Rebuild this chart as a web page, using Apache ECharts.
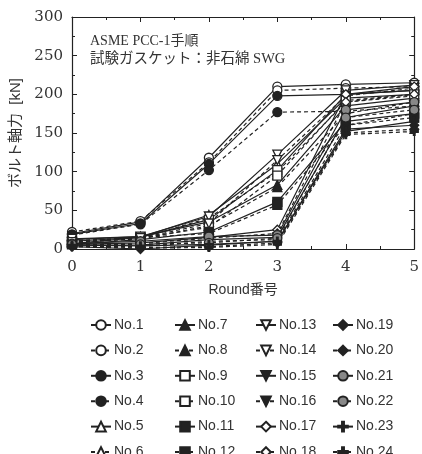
<!DOCTYPE html>
<html><head><meta charset="utf-8">
<script src="https://cdn.jsdelivr.net/npm/echarts@6/dist/echarts.min.js"></script>
<style>html,body{margin:0;padding:0;background:#fff}#c{width:422px;height:454px}</style>
</head><body><div id="c"></div>
<script>
const rounds = [0, 1, 2, 3, 4, 5];
const names = ['No.1','No.2','No.3','No.4','No.5','No.6','No.7','No.8','No.9','No.10','No.11','No.12',
  'No.13','No.14','No.15','No.16','No.17','No.18','No.19','No.20','No.21','No.22','No.23','No.24'];
const no1  = [20, 35, 118, 210, 213, 215];
const no2  = [22, 36, 112, 205, 208, 210];
const no3  = [19, 33, 110, 198, 200, 205];
const no4  = [18, 32, 102, 177, 178, 185];
const no5  = [10, 15, 44, 110, 195, 200];
const no6  = [8, 14, 40, 100, 190, 198];
const no7  = [12, 16, 35, 83, 185, 195];
const no8  = [9, 13, 30, 80, 175, 190];
const no9  = [7, 15, 38, 102, 200, 205];
const no10 = [11, 14, 28, 95, 192, 200];
const no11 = [6, 12, 22, 61, 165, 175];
const no12 = [10, 15, 20, 57, 160, 170];
const no13 = [13, 16, 42, 122, 205, 212];
const no14 = [9, 14, 33, 115, 198, 208];
const no15 = [5, 5, 12, 15, 170, 185];
const no16 = [4, 3, 10, 12, 160, 175];
const no17 = [6, 8, 15, 25, 200, 210];
const no18 = [5, 7, 14, 20, 190, 200];
const no19 = [3, 0, 5, 10, 155, 160];
const no20 = [4, 2, 3, 8, 150, 155];
const no21 = [7, 10, 16, 18, 180, 190];
const no22 = [6, 6, 8, 14, 170, 180];
const no23 = [5, 4, 6, 10, 152, 165];
const no24 = [3, 1, 2, 6, 148, 152];
const values = [no1,no2,no3,no4,no5,no6,no7,no8,no9,no10,no11,no12,no13,no14,no15,no16,no17,no18,no19,no20,no21,no22,no23,no24];

const INK = '#222';
const TRI_DOWN = 'path://M0,0 L10,0 L5,9 Z';
const PLUS = 'path://M4,0 H6 V4 H10 V6 H6 V10 H4 V6 H0 V4 H4 Z';
// marker style per pair (odd = solid line, even = dashed)
const markers = [
  ['circle', '#fff'], ['circle', INK], ['triangle', '#fff'], ['triangle', INK],
  ['rect', '#fff'], ['rect', INK], [TRI_DOWN, '#fff'], [TRI_DOWN, INK],
  ['diamond', '#fff'], ['diamond', INK], ['circle', '#888'], [PLUS, INK]
];
const FONT = '"Liberation Serif", "Noto Sans CJK JP", serif';
const NUM = '"DejaVu Serif", serif';
const SANS = '"Liberation Sans", "Noto Sans CJK JP", sans-serif';

const series = names.map((n, i) => {
  const m = markers[Math.floor(i / 2)];
  const dashed = i % 2 === 1;
  return {
    name: n, type: 'line', xAxisIndex: 0, yAxisIndex: 0,
    data: rounds.map((r, k) => [r, values[i][k]]),
    symbol: m[0], symbolSize: m[0] === PLUS ? 8 : 9,
    color: INK,
    lineStyle: { color: INK, width: 1.2, type: dashed ? [4, 3] : 'solid' },
    itemStyle: { color: m[1], borderColor: INK, borderWidth: 1.3 },
    animation: false
  };
});

const legendCols = [90, 174, 255, 332];
const legends = legendCols.map((x, c) => ({
  orient: 'vertical', left: x, top: 318, height: 220, padding: 0, itemGap: 11.4,
  itemWidth: 20, itemHeight: 12,
  data: names.slice(c * 6, c * 6 + 6),
  textStyle: { fontFamily: SANS, fontSize: 14, color: '#333', padding: [0, 0, 0, -2] },
  selectedMode: false
}));

const axisCommon = {
  axisLine: { show: true, onZero: false, lineStyle: { color: INK, width: 1.2 } },
  axisTick: { show: true, inside: true, length: 5, lineStyle: { color: INK } },
  minorTick: { show: true, splitNumber: 2, length: 3, lineStyle: { color: INK } },
  splitLine: { show: false }
};

const option = {
  backgroundColor: '#fff',
  animation: false,
  grid: { left: 72, right: 4, top: 17, bottom: 205, containLabel: false },
  xAxis: [
    Object.assign({ type: 'value', min: 0, max: 5, interval: 1, position: 'bottom',
      axisLabel: { margin: 11, fontFamily: NUM, fontSize: 15, color: '#333' },
      name: 'Round番号', nameLocation: 'middle', nameGap: 34,
      nameTextStyle: { fontFamily: SANS, fontSize: 14, color: '#333' } }, axisCommon),
    Object.assign({ type: 'value', min: 0, max: 5, interval: 1, position: 'top',
      axisLabel: { show: false } }, axisCommon)
  ],
  yAxis: [
    Object.assign({ type: 'value', min: 0, max: 300, interval: 50, position: 'left',
      axisLabel: { margin: 9, fontFamily: NUM, fontSize: 15, color: '#333' },
      name: 'ボルト軸力  [kN]', nameLocation: 'middle', nameGap: 48, nameRotate: 90,
      nameTextStyle: { fontFamily: SANS, fontSize: 15, color: '#333' } }, axisCommon),
    Object.assign({ type: 'value', min: 0, max: 300, interval: 50, position: 'right',
      axisLabel: { show: false } }, axisCommon)
  ],
  legend: legends,
  graphic: [
    { type: 'text', left: 90, top: 34, style: { text: 'ASME PCC-1手順', font: '14px ' + FONT, fill: '#333' } },
    { type: 'text', left: 90, top: 52, style: { text: '試験ガスケット：非石綿 SWG', font: '14.5px ' + FONT, fill: '#333' } }
  ],
  series: series
};
const chart = echarts.init(document.getElementById('c'), null, { renderer: 'canvas' });
chart.setOption(option);
</script></body></html>
